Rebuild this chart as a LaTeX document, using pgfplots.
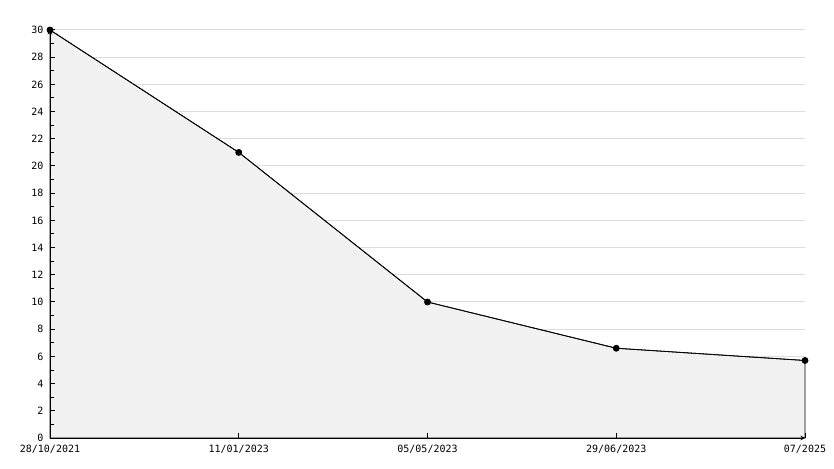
\documentclass[border=0pt]{standalone}
\usepackage{fontspec}
\setmainfont{DejaVu Sans Mono}
\usepackage{pgfplots}
\pgfplotsset{compat=1.18}
\definecolor{fillgray}{HTML}{F1F1F1}
\definecolor{gridgray}{HTML}{DDDDDD}
\begin{document}
\begin{tikzpicture}
\begin{axis}[
  axis on top,
  scale only axis,
  width=755pt, height=408pt,
  xmin=0, xmax=4, ymin=0, ymax=30,
  axis lines=left,
  axis line style={black, line width=1pt},
  xtick={0,1,2,3,4},
  xticklabels={28/10/2021,11/01/2023,05/05/2023,29/06/2023,07/2025},
  ytick={0,2,...,30},
  minor ytick={1,3,...,29},
  tick align=inside,
  major tick length=5pt,
  minor tick length=4pt,
  major tick style={black, line width=1pt},
  minor tick style={black, line width=1pt},
  /pgf/number format/assume math mode=true,
  tick label style={font=\fontsize{10}{10}\selectfont},
  xticklabel style={yshift=-4pt},
  yticklabel style={xshift=-3pt},
  clip=false,
]
\pgfplotsinvokeforeach{2,4,...,30}{
  \draw[gridgray, line width=1pt] (axis cs:0,#1) -- (axis cs:4,#1);
}
\addplot[draw=black, line width=0.8pt, fill=fillgray]
  coordinates {(0,30) (1,21) (2,10) (3,6.6) (4,5.7)} \closedcycle;
\addplot[draw=black, line width=0.8pt, mark=*, mark size=3pt, mark options={fill=black}]
  coordinates {(0,30) (1,21) (2,10) (3,6.6) (4,5.7)};
\end{axis}
\pgfresetboundingbox
\path[use as bounding box] (-50pt,-30pt) rectangle (784pt,438pt);
\end{tikzpicture}
\end{document}
